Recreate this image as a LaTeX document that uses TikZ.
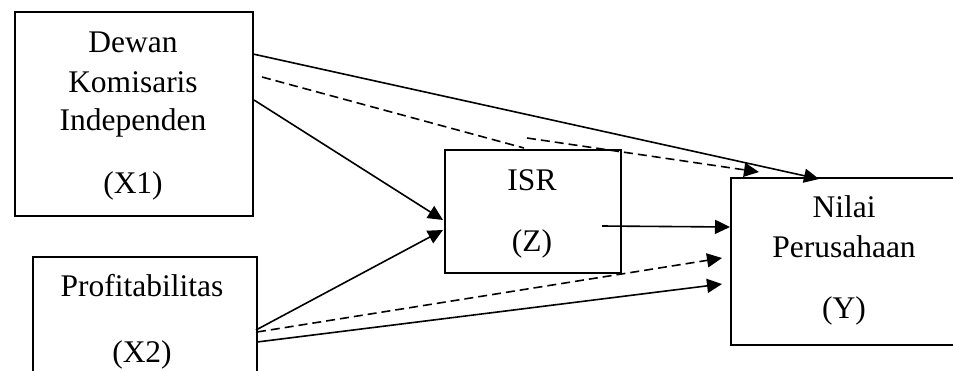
\documentclass[tikz,border=0pt]{standalone}
\usepackage{fontspec}
\setmainfont{Liberation Serif}
\usetikzlibrary{arrows.meta}
\begin{document}
\begin{tikzpicture}[x=1pt,y=-1pt,
  box/.style={draw,line width=1.8pt,inner sep=0pt,anchor=north west},
  lbl/.style={anchor=base,inner sep=0pt,font=\fontsize{31.5}{38}\selectfont},
  tip/.style={-{Triangle[length=15pt,width=14pt]}},
  link/.style={line width=1.6pt,tip},
  dashline/.style={line width=1.6pt,dash pattern=on 9pt off 5pt}
]
\useasboundingbox (0,0) rectangle (953,370);
\clip (0,0) rectangle (953,370);

% variable boxes
\node[box,minimum width=238pt,minimum height=204pt] (bx1) at (14,11) {};
\node[box,minimum width=224pt,minimum height=150pt] (bx2) at (32,256) {};
\node[box,minimum width=176pt,minimum height=123pt] (bz) at (444,149) {};
\node[box,minimum width=240pt,minimum height=167pt] (by) at (730,177) {};

% labels
\node[lbl] (d1) at (133,52) {Dewan};
\node[lbl] (d2) at (133,92) {Komisaris};
\node[lbl] (d3) at (133,130) {Independen};
\node[lbl] (d4) at (133,193) {(X1)};
\node[lbl] (p1) at (142,296) {Profitabilitas};
\node[lbl] (p2) at (142,362) {(X2)};
\node[lbl] (z1) at (532,190) {ISR};
\node[lbl] (z2) at (532,251) {(Z)};
\node[lbl] (y1) at (844,217) {Nilai};
\node[lbl] (y2) at (844,257) {Perusahaan};
\node[lbl] (y3) at (844,318) {(Y)};

% attachment points
\coordinate (x1a) at (253,54);
\coordinate (x1b) at (262,77);
\coordinate (x1c) at (254,100);
\coordinate (x2a) at (256,330);
\coordinate (x2b) at (257,332);
\coordinate (x2c) at (257,342);
\coordinate (zin1) at (443,220);
\coordinate (zin2) at (443,230);
\coordinate (ztop) at (524,148);
\coordinate (zmed) at (527,138);
\coordinate (zout) at (602,226);
\coordinate (ytop1) at (819,179);
\coordinate (ytop2) at (759,172);
\coordinate (yin1) at (730,227);
\coordinate (yin2) at (722,258);
\coordinate (yin3) at (722,284);

% connectors
\draw[link] (x1a) -- (ytop1);
\draw[dashline] (x1b) -- (ztop);
\draw[dashline,tip] (zmed) -- (ytop2);
\draw[link] (x1c) -- (zin1);
\draw[link] (x2a) -- (zin2);
\draw[dashline,tip] (x2b) -- (yin2);
\draw[link] (x2c) -- (yin3);
\draw[link] (zout) -- (yin1);
\end{tikzpicture}
\end{document}
